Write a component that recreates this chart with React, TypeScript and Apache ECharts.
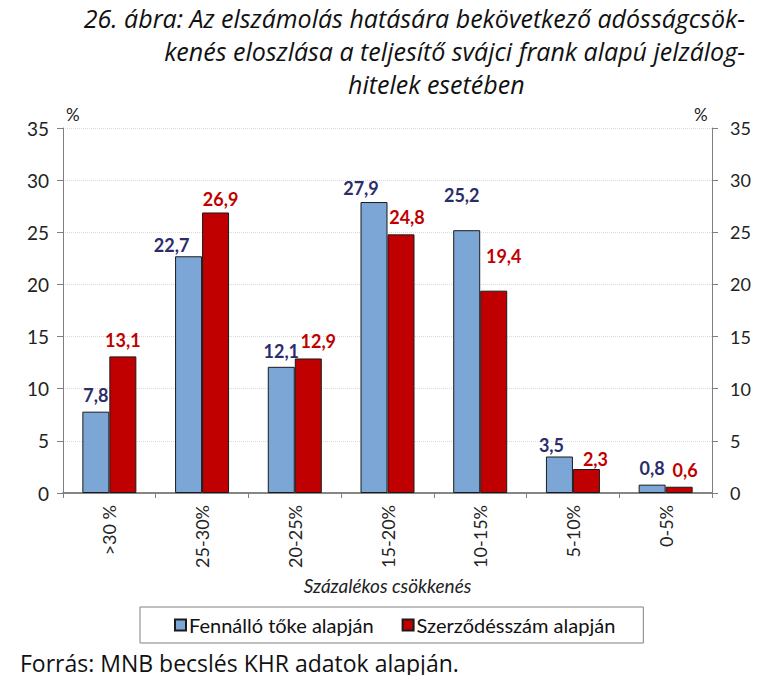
import React, { useEffect, useRef } from "react";
import * as echarts from "echarts";

const categories = [">30 %", "25-30%", "20-25%", "15-20%", "10-15%", "5-10%", "0-5%"];
const seriesNames = ["Fennálló tőke alapján", "Szerződésszám alapján"];
const outstandingValues = [7.8, 22.7, 12.1, 27.9, 25.2, 3.5, 0.8];
const contractValues = [13.1, 26.9, 12.9, 24.8, 19.4, 2.3, 0.6];
const yTicks = { min: 0, max: 35, interval: 5 };
const titleLines = [
  "26. ábra: Az elszámolás hatására bekövetkező adósságcsök-",
  "kenés eloszlása a teljesítő svájci frank alapú jelzálog-",
  "hitelek esetében",
];
const xAxisTitle = "Százalékos csökkenés";
const sourceText = "Forrás: MNB becslés KHR adatok alapján.";

// label nudges (style only)
const blueLabelOffsets = [[0, -4], [-17, 2], [0, -3], [-13, -1], [-5, -22], [-8, 1], [0, -4]];
const redLabelOffsets = [[0, -3], [5, 0], [10, -4], [6, -4], [10, -22], [9, 3], [6, -4]];

const FONT = "Lato, 'Open Sans', sans-serif";
const TFONT = "'Open Sans', Lato, sans-serif";
const BLUE = "#7BA6D6";
const RED = "#C00000";
const NAVY = "#2B2D6B";
const AXIS = "#7F7F7F";

export default function App() {
  const ref = useRef<HTMLDivElement>(null);
  useEffect(() => {
    if (!ref.current) return;
    const chart = echarts.init(ref.current, null, { renderer: "svg" });
    const fmt = (p: any) => String(p.value).replace(".", ",");
    const yAxisCommon = {
      type: "value",
      min: yTicks.min,
      max: yTicks.max,
      interval: yTicks.interval,
      axisLine: { show: true, lineStyle: { color: AXIS, width: 1 } },
      axisTick: { show: true, inside: false, length: 6, lineStyle: { color: AXIS } },
      axisLabel: { color: "#222", fontSize: 19, fontFamily: FONT },
    };
    chart.setOption({
      animation: false,
      backgroundColor: "#fff",
      textStyle: { fontFamily: FONT },
      grid: { left: 63, right: 48, top: 128, bottom: 190 },
      legend: {
        data: seriesNames,
        left: 140,
        top: 607,
        orient: "horizontal",
        itemWidth: 11,
        itemHeight: 11,
        itemGap: 28,
        padding: [8, 28, 8, 34],
        borderColor: "#808080",
        borderWidth: 1,
        borderRadius: 0,
        icon: "rect",
        textStyle: { fontSize: 20, color: "#111", fontFamily: FONT, padding: [0, 0, 0, -2] },
      },
      xAxis: [
        {
          type: "category",
          data: categories,
          position: "bottom",
          axisLine: { show: true, lineStyle: { color: AXIS, width: 1.5 } },
          axisTick: { show: true, length: 5, lineStyle: { color: AXIS } },
          axisLabel: { rotate: 90, margin: 12, color: "#222", fontSize: 18, fontFamily: FONT },
          name: xAxisTitle,
          nameLocation: "middle",
          nameGap: 77,
          nameTextStyle: { fontStyle: "italic", fontSize: 19, color: "#222", fontFamily: FONT },
        },
        {
          type: "category",
          data: categories,
          position: "top",
          axisLine: { show: true, lineStyle: { color: AXIS, width: 1.5 } },
          axisTick: { show: false },
          axisLabel: { show: false },
        },
      ],
      yAxis: [
        {
          ...yAxisCommon,
          position: "left",
          axisLabel: { ...yAxisCommon.axisLabel, margin: 14 },
          splitLine: { show: true, lineStyle: { color: "#D9D9D9", type: "dotted", width: 1 } },
        },
        {
          ...yAxisCommon,
          position: "right",
          axisLabel: { ...yAxisCommon.axisLabel, fontSize: 18, margin: 18 },
          splitLine: { show: false },
        },
      ],
      series: [
        {
          name: seriesNames[0],
          type: "bar",
          barWidth: 27,
          barGap: "0%",
          itemStyle: { color: BLUE, borderColor: "#1a1a1a", borderWidth: 1 },
          label: {
            show: true,
            position: "top",
            distance: 4,
            color: NAVY,
            fontWeight: "bold",
            fontSize: 18,
            fontFamily: FONT,
            formatter: fmt,
          },
          data: outstandingValues.map((v, i) => ({ value: v, label: { offset: blueLabelOffsets[i] } })),
        },
        {
          name: seriesNames[1],
          type: "bar",
          barWidth: 27,
          barGap: "0%",
          itemStyle: { color: RED, borderColor: "#1a1a1a", borderWidth: 1 },
          label: {
            show: true,
            position: "top",
            distance: 4,
            color: RED,
            fontWeight: "bold",
            fontSize: 18,
            fontFamily: FONT,
            formatter: fmt,
          },
          data: contractValues.map((v, i) => ({ value: v, label: { offset: redLabelOffsets[i] } })),
        },
      ],
      graphic: [
        {
          type: "text",
          right: 15,
          top: 5,
          style: { text: titleLines[0], font: `italic 25px ${TFONT}`, fill: "#111" },
        },
        {
          type: "text",
          right: 15,
          top: 38,
          style: { text: titleLines[1], font: `italic 25px ${TFONT}`, fill: "#111" },
        },
        {
          type: "text",
          left: 348,
          top: 71,
          style: { text: titleLines[2], font: `italic 25px ${TFONT}`, fill: "#111" },
        },
        {
          type: "text",
          left: 66,
          top: 106,
          style: { text: "%", font: `17px ${FONT}`, fill: "#222" },
        },
        {
          type: "text",
          left: 694,
          top: 106,
          style: { text: "%", font: `17px ${FONT}`, fill: "#222" },
        },
        {
          type: "text",
          left: 20,
          top: 651,
          style: { text: sourceText, font: `23px ${TFONT}`, fill: "#111" },
        },
      ],
    });
    return () => chart.dispose();
  }, []);
  return <div ref={ref} style={{ width: 760, height: 683, margin: -8 }} />;
}
